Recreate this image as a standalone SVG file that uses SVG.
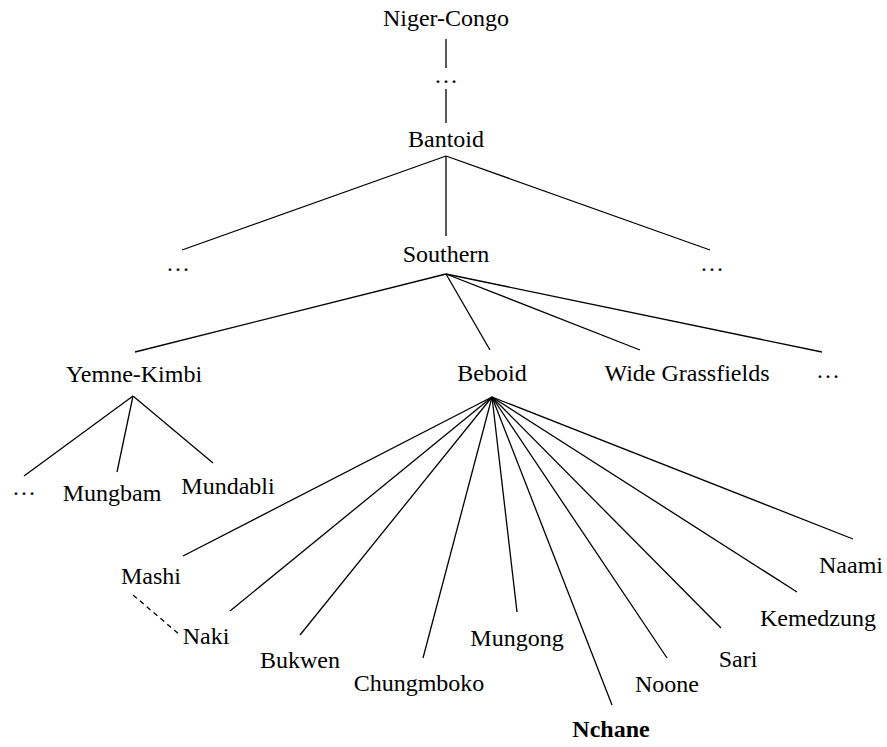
<svg xmlns="http://www.w3.org/2000/svg" width="887" height="747" viewBox="0 0 887 747">
<style>
text{font-family:"Liberation Serif","Times New Roman",serif;font-size:24px;fill:#000;text-anchor:middle}
.b{font-weight:bold}
line{stroke:#000;stroke-width:1.3}
.d{stroke-dasharray:5,4}
</style>
<rect width="887" height="747" fill="#fff"/>
<g id="connectors">
<line x1="446" y1="39" x2="446" y2="68"/>
<line x1="446" y1="89" x2="446" y2="123"/>
<line x1="446" y1="156" x2="182" y2="250"/>
<line x1="446" y1="156" x2="446" y2="236"/>
<line x1="446" y1="156" x2="710" y2="250"/>
<line x1="446" y1="274" x2="135" y2="352"/>
<line x1="446" y1="274" x2="490" y2="350"/>
<line x1="446" y1="274" x2="640" y2="350"/>
<line x1="446" y1="274" x2="822" y2="352"/>
<line x1="133" y1="396" x2="24" y2="476"/>
<line x1="133" y1="396" x2="117" y2="472"/>
<line x1="133" y1="396" x2="213" y2="463"/>
<line x1="492" y1="397" x2="183" y2="556"/>
<line x1="492" y1="397" x2="230" y2="611"/>
<line x1="492" y1="397" x2="300" y2="635"/>
<line x1="492" y1="397" x2="423" y2="658"/>
<line x1="492" y1="397" x2="517" y2="612"/>
<line x1="492" y1="397" x2="612" y2="705"/>
<line x1="492" y1="397" x2="667" y2="658"/>
<line x1="492" y1="397" x2="721" y2="628"/>
<line x1="492" y1="397" x2="797" y2="592"/>
<line x1="492" y1="397" x2="853" y2="539"/>
<line class="d" x1="133" y1="595" x2="180" y2="635"/>
</g>
<g id="niger-congo"><text x="446" y="26">Niger-Congo</text></g>
<g id="dots-top"><text x="446" y="83">…</text></g>
<g id="bantoid"><text x="446" y="147">Bantoid</text></g>
<g id="dots-left"><text x="178" y="271">…</text></g>
<g id="southern"><text x="446" y="262">Southern</text></g>
<g id="dots-right"><text x="712" y="271">…</text></g>
<g id="yemne-kimbi"><text x="134" y="382">Yemne-Kimbi</text></g>
<g id="beboid"><text x="492" y="381">Beboid</text></g>
<g id="wide-grassfields"><text x="687" y="381">Wide Grassfields</text></g>
<g id="dots-southern"><text x="828" y="378">…</text></g>
<g id="dots-yk"><text x="24" y="495">…</text></g>
<g id="mungbam"><text x="112" y="501">Mungbam</text></g>
<g id="mundabli"><text x="228" y="494">Mundabli</text></g>
<g id="mashi"><text x="151" y="584">Mashi</text></g>
<g id="naki"><text x="206" y="644">Naki</text></g>
<g id="bukwen"><text x="300" y="668">Bukwen</text></g>
<g id="chungmboko"><text x="419" y="691">Chungmboko</text></g>
<g id="mungong"><text x="517" y="646">Mungong</text></g>
<g id="nchane"><text class="b" x="611" y="737">Nchane</text></g>
<g id="noone"><text x="667" y="692">Noone</text></g>
<g id="sari"><text x="738" y="667">Sari</text></g>
<g id="kemedzung"><text x="818" y="626">Kemedzung</text></g>
<g id="naami"><text x="851" y="573">Naami</text></g>
</svg>
